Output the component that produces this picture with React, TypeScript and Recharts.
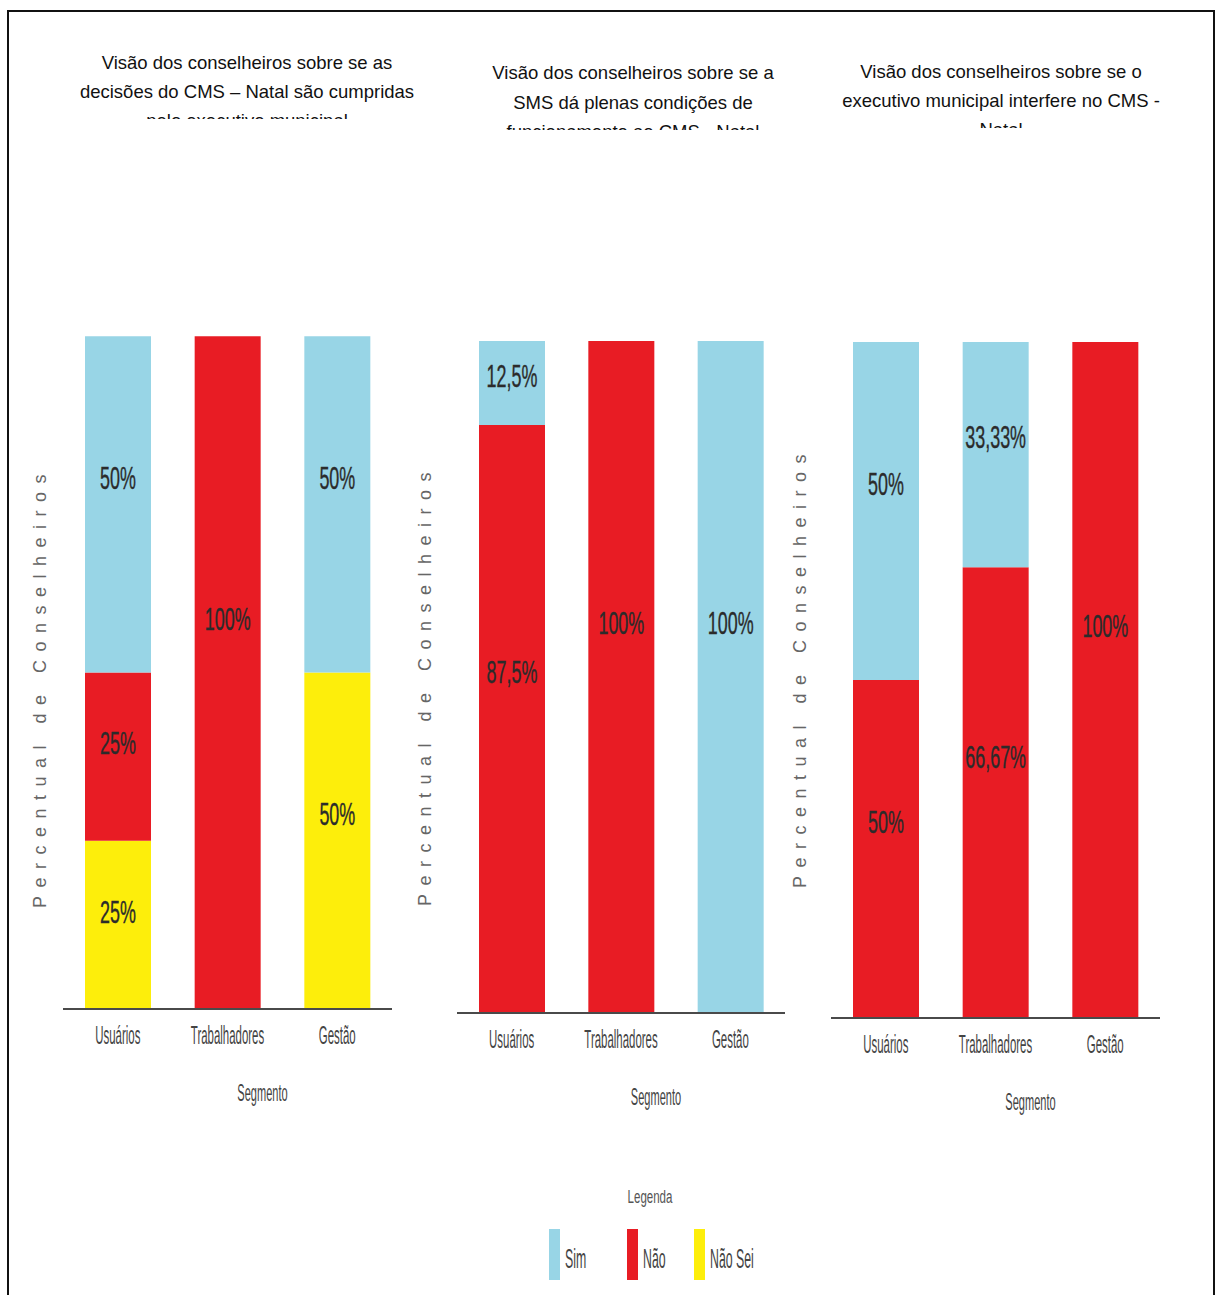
import React from 'react';
import { BarChart, Bar, XAxis, YAxis, LabelList } from 'recharts';

// ---- data ----
const segments = ['Usuários', 'Trabalhadores', 'Gestão'];

const c1Sim = [50, 0, 50];
const c1Nao = [25, 100, 0];
const c1NaoSei = [25, 0, 50];

const c2Sim = [12.5, 0, 100];
const c2Nao = [87.5, 100, 0];

const c3Sim = [50, 33.33, 0];
const c3Nao = [50, 66.67, 100];

const title1 = ['Visão dos conselheiros sobre se as', 'decisões do CMS – Natal são cumpridas', 'pelo executivo municipal'];
const title2 = ['Visão dos conselheiros sobre se a', 'SMS dá plenas condições de', 'funcionamento ao CMS - Natal'];
const title3 = ['Visão dos conselheiros sobre se o', 'executivo municipal interfere no CMS -', 'Natal'];

const yAxisTitle = 'Percentual de Conselheiros';
const xAxisTitle = 'Segmento';
const legendTitle = 'Legenda';
const legendLabels = ['Sim', 'Não', 'Não Sei'];

// ---- styles ----
const COLORS: Record<string, string> = { sim: '#98D5E6', nao: '#E81C24', naosei: '#FDEE0B' };
const legendKeys = ['sim', 'nao', 'naosei'];
const FONT = 'Liberation Sans, Arial, sans-serif';
const PAGE_H = 1295;

const data1 = segments.map((s, i) => ({ seg: s, sim: c1Sim[i], nao: c1Nao[i], naosei: c1NaoSei[i] }));
const data2 = segments.map((s, i) => ({ seg: s, sim: c2Sim[i], nao: c2Nao[i] }));
const data3 = segments.map((s, i) => ({ seg: s, sim: c3Sim[i], nao: c3Nao[i] }));

const fmt = (v: number) => `${String(v).replace('.', ',')}%`;

const PctLabel = (props: any) => {
  const { x, y, width, height, value } = props;
  if (!value) return null;
  const cx = Number(x) + Number(width) / 2;
  const cy = Number(y) + Number(height) * 0.42;
  return (
    <text
      transform={`translate(${cx},${cy}) scale(0.56,1)`}
      textAnchor="middle"
      dominantBaseline="central"
      fontFamily={FONT}
      fontSize={32}
      fill="#2b2b2b"
      stroke="#2b2b2b"
      strokeWidth={0.4}
    >
      {fmt(Number(value))}
    </text>
  );
};

const SegTick = (props: any) => {
  const { x, y, payload } = props;
  return (
    <text
      transform={`translate(${x},${Number(y) + 35}) scale(0.44,1)`}
      textAnchor="middle"
      fontFamily={FONT}
      fontSize={26}
      fill="#444"
    >
      {payload.value}
    </text>
  );
};

type Cfg = {
  left: number;
  width: number;
  axisX: number;
  axisEnd: number;
  axisTop: number;
  axisY: number;
  data: any[];
  keys: string[];
  title: string[];
  titleX: number;
  titleBase: number[];
  clipY: number;
  yLabelX: number;
  yLabelY: number;
};

const X_AXIS_H = 50;

const charts: Cfg[] = [
  {
    left: 0, width: 420, axisX: 63, axisEnd: 392, axisTop: 168, axisY: 1009,
    data: data1, keys: ['naosei', 'nao', 'sim'], title: title1, titleX: 247,
    titleBase: [69, 98, 127], clipY: 119, yLabelX: 46, yLabelY: 687,
  },
  {
    left: 420, width: 400, axisX: 457, axisEnd: 785, axisTop: 173, axisY: 1013,
    data: data2, keys: ['nao', 'sim'], title: title2, titleX: 633,
    titleBase: [79, 109, 138], clipY: 130, yLabelX: 431, yLabelY: 685,
  },
  {
    left: 800, width: 416, axisX: 831, axisEnd: 1160, axisTop: 173, axisY: 1018,
    data: data3, keys: ['nao', 'sim'], title: title3, titleX: 1001,
    titleBase: [78, 107, 136], clipY: 128, yLabelX: 806, yLabelY: 667,
  },
];

const Panel = ({ c }: { c: Cfg }) => {
  const margin = {
    top: c.axisTop,
    left: c.axisX - c.left,
    right: c.width - (c.axisEnd - c.left),
    bottom: PAGE_H - c.axisY - X_AXIS_H,
  };
  return (
    <div style={{ position: 'absolute', left: c.left, top: 0, width: c.width, height: PAGE_H }}>
      <BarChart width={c.width} height={PAGE_H} data={c.data} margin={margin} barCategoryGap={0}>
        <XAxis
          dataKey="seg"
          height={X_AXIS_H}
          tickLine={false}
          tickSize={0}
          tickMargin={0}
          interval={0}
          axisLine={{ stroke: '#4a4a4a', strokeWidth: 2 }}
          tick={<SegTick />}
        />
        <YAxis
          width={0}
          domain={[0, 125]}
          tick={false}
          tickLine={false}
          axisLine={{ stroke: '#a0a0a0', strokeWidth: 2 }}
        />
        {c.keys.map((k) => (
          <Bar key={k} dataKey={k} stackId="a" fill={COLORS[k]} barSize={66} isAnimationActive={false}>
            <LabelList dataKey={k} content={<PctLabel />} />
          </Bar>
        ))}
      </BarChart>
    </div>
  );
};

const Overlay = () => (
  <svg
    width={1216}
    height={PAGE_H}
    style={{ position: 'absolute', left: 0, top: 0, pointerEvents: 'none' }}
  >
    <defs>
      {charts.map((c, i) => (
        <clipPath id={`tclip${i}`} key={i}>
          <rect x={c.left} y={0} width={c.width} height={c.clipY} />
        </clipPath>
      ))}
    </defs>
    {charts.map((c, i) => (
      <g key={i}>
        <g clipPath={`url(#tclip${i})`}>
          {c.title.map((t, j) => (
            <text
              key={j}
              x={c.titleX}
              y={c.titleBase[j]}
              textAnchor="middle"
              fontFamily={FONT}
              fontSize={18.5}
              fill="#111"
            >
              {t}
            </text>
          ))}
        </g>
        <text
          transform={`translate(${c.yLabelX},${c.yLabelY}) rotate(-90)`}
          textAnchor="middle"
          fontFamily={FONT}
          fontSize={18}
          letterSpacing={8.5}
          fill="#666"
        >
          {yAxisTitle}
        </text>
        <text
          transform={`translate(${(c.axisX + c.axisEnd) / 2 + 35},${c.axisY + 92}) scale(0.46,1)`}
          textAnchor="middle"
          fontFamily={FONT}
          fontSize={24}
          fill="#444"
        >
          {xAxisTitle}
        </text>
      </g>
    ))}
    {/* legend */}
    <text
      transform={`translate(650,1203) scale(0.64,1)`}
      textAnchor="middle"
      fontFamily={FONT}
      fontSize={18}
      fill="#555"
    >
      {legendTitle}
    </text>
    {legendLabels.map((l, i) => {
      const sx = [549, 627, 694][i];
      return (
        <g key={l}>
          <rect x={sx} y={1229} width={11} height={51} fill={COLORS[legendKeys[i]]} />
          <text
            transform={`translate(${sx + 16},${1268}) scale(0.44,1)`}
            fontFamily={FONT}
            fontSize={28}
            fill="#444"
          >
            {l}
          </text>
        </g>
      );
    })}
  </svg>
);

export default function App() {
  return (
    <div style={{ position: 'absolute', left: 0, top: 0, width: 1216, height: PAGE_H, background: '#fff', overflow: 'hidden' }}>
      <div
        style={{
          position: 'absolute',
          left: 7,
          top: 10,
          width: 1204,
          height: PAGE_H + 20,
          borderLeft: '2px solid #111',
          borderTop: '2px solid #111',
          borderRight: '2px solid #111',
        }}
      />
      {charts.map((c, i) => (
        <Panel key={i} c={c} />
      ))}
      <Overlay />
    </div>
  );
}
